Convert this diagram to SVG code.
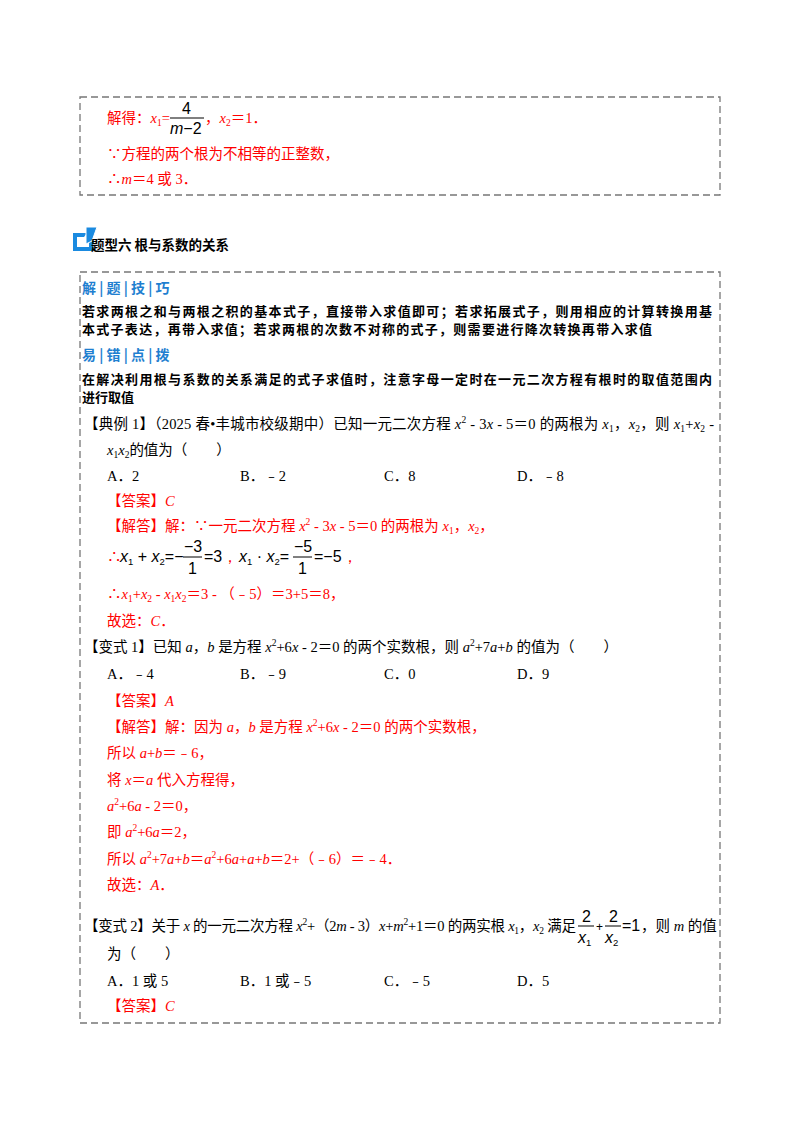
<svg xmlns="http://www.w3.org/2000/svg" width="800" height="1132" viewBox="0 0 800 1132">
<style>
text{font-family:"Liberation Serif","Noto Sans CJK SC",serif;font-size:14.5px;fill:#000}
.r{fill:#ff0000}
.b{font-family:"Noto Sans CJK SC",sans-serif;font-weight:bold;font-size:13px}
.t{font-family:"Noto Sans CJK SC",sans-serif;font-weight:bold;font-size:13.5px}
.h{font-family:"Noto Sans CJK SC",sans-serif;font-weight:bold;font-size:14px;fill:#1f7fd0}
.box{fill:none;stroke:#777;stroke-width:1.3;stroke-dasharray:7,4}
.i{font-style:italic}
.s{font-size:9.5px}
.m{font-family:"Liberation Sans",sans-serif;font-size:16px}
</style>
<rect width="800" height="1132" fill="#fff"/>
<g id="box1">
<rect class="box" x="80" y="97" width="640" height="98"/>
<text x="107" y="123" class="r">解得：<tspan class="i">x</tspan><tspan class="s" dy="3">1</tspan><tspan dy="-3">=</tspan></text>
<text x="182" y="114" class="m">4</text>
<line x1="170" y1="118" x2="204" y2="118" stroke="#000"/>
<text x="170" y="134" class="m"><tspan class="i">m</tspan>−2</text>
<text x="205" y="123" class="r">，<tspan class="i">x</tspan><tspan class="s" dy="3">2</tspan><tspan dy="-3">＝1．</tspan></text>
<text x="107" y="159" class="r">∵方程的两个根为不相等的正整数，</text>
<text x="107" y="184" class="r">∴<tspan class="i">m</tspan>＝4 或 3．</text>
</g>
<g id="title">
<path d="M73 233 h14 l-3 4 h-7 v10 h12 v-5 l4-3 v12 h-20z" fill="#1a8ae0"/>
<path d="M86 227 h11 l-5 14 l-6 3 l0-6z" fill="#1a8ae0" stroke="#fff" stroke-width="1"/>
<text x="91" y="250" class="t">题型六  根与系数的关系</text>
</g>
<g id="box2">
<rect class="box" x="80" y="272" width="640" height="751"/>
<text x="82" y="293" class="h">解 | 题 | 技 | 巧</text>
<text x="82" y="316" class="b" textLength="630">若求两根之和与两根之积的基本式子，直接带入求值即可；若求拓展式子，则用相应的计算转换用基</text>
<text x="82" y="334" class="b" textLength="570">本式子表达，再带入求值；若求两根的次数不对称的式子，则需要进行降次转换再带入求值</text>
<text x="82" y="360" class="h">易 | 错 | 点 | 拨</text>
<text x="82" y="384" class="b" textLength="630">在解决利用根与系数的关系满足的式子求值时，注意字母一定时在一元二次方程有根时的取值范围内</text>
<text x="82" y="402" class="b">进行取值</text>
<text x="84" y="429" textLength="630">【典例 1】（2025 春•丰城市校级期中）已知一元二次方程 <tspan class="i">x</tspan><tspan class="s" dy="-6">2</tspan><tspan dy="6"> ‐ 3</tspan><tspan class="i">x</tspan> ‐ 5＝0 的两根为 <tspan class="i">x</tspan><tspan class="s" dy="3">1</tspan><tspan dy="-3">，</tspan><tspan class="i">x</tspan><tspan class="s" dy="3">2</tspan><tspan dy="-3">，则 </tspan><tspan class="i">x</tspan><tspan class="s" dy="3">1</tspan><tspan dy="-3">+</tspan><tspan class="i">x</tspan><tspan class="s" dy="3">2</tspan><tspan dy="-3"> ‐</tspan></text>
<text x="107" y="455"><tspan class="i">x</tspan><tspan class="s" dy="3">1</tspan><tspan class="i" dy="-3">x</tspan><tspan class="s" dy="3">2</tspan><tspan dy="-3">的值为（　　）</tspan></text>
<text x="107" y="481">A．2</text><text x="240" y="481">B．﹣2</text><text x="384" y="481">C．8</text><text x="517" y="481">D．﹣8</text>
<text x="107" y="506" class="r">【答案】<tspan class="i">C</tspan></text>
<text x="107" y="531" class="r">【解答】解：∵一元二次方程 <tspan class="i">x</tspan><tspan class="s" dy="-6">2</tspan><tspan dy="6"> ‐ 3</tspan><tspan class="i">x</tspan> ‐ 5＝0 的两根为 <tspan class="i">x</tspan><tspan class="s" dy="3">1</tspan><tspan dy="-3">，</tspan><tspan class="i">x</tspan><tspan class="s" dy="3">2</tspan><tspan dy="-3">，</tspan></text>
<text x="107" y="562" class="r">∴</text>
<text x="120" y="562" class="m"><tspan class="i">x</tspan><tspan class="s" dy="3">1</tspan><tspan dy="-3"> + </tspan><tspan class="i">x</tspan><tspan class="s" dy="3">2</tspan><tspan dy="-3">=−</tspan></text>
<text x="184" y="552" class="m">−3</text>
<line x1="183" y1="557" x2="202" y2="557" stroke="#000"/>
<text x="188" y="574" class="m">1</text>
<text x="204" y="562" class="m">=3<tspan class="r">，</tspan></text>
<text x="239" y="562" class="m"><tspan class="i">x</tspan><tspan class="s" dy="3">1</tspan><tspan dy="-3"> · </tspan><tspan class="i">x</tspan><tspan class="s" dy="3">2</tspan><tspan dy="-3">=</tspan></text>
<text x="294" y="552" class="m">−5</text>
<line x1="293" y1="557" x2="312" y2="557" stroke="#000"/>
<text x="298" y="574" class="m">1</text>
<text x="314" y="562" class="m">=−5<tspan class="r">，</tspan></text>
<text x="107" y="599" class="r">∴<tspan class="i">x</tspan><tspan class="s" dy="3">1</tspan><tspan dy="-3">+</tspan><tspan class="i">x</tspan><tspan class="s" dy="3">2</tspan><tspan dy="-3"> ‐ </tspan><tspan class="i">x</tspan><tspan class="s" dy="3">1</tspan><tspan class="i" dy="-3">x</tspan><tspan class="s" dy="3">2</tspan><tspan dy="-3">＝3 ‐ （﹣5）＝3+5＝8，</tspan></text>
<text x="107" y="626" class="r">故选：<tspan class="i">C</tspan>．</text>
<text x="84" y="652">【变式 1】已知 <tspan class="i">a</tspan>，<tspan class="i">b</tspan> 是方程 <tspan class="i">x</tspan><tspan class="s" dy="-6">2</tspan><tspan dy="6">+6</tspan><tspan class="i">x</tspan> ‐ 2＝0 的两个实数根，则 <tspan class="i">a</tspan><tspan class="s" dy="-6">2</tspan><tspan dy="6">+7</tspan><tspan class="i">a</tspan>+<tspan class="i">b</tspan> 的值为（　　）</text>
<text x="107" y="679">A．﹣4</text><text x="240" y="679">B．﹣9</text><text x="384" y="679">C．0</text><text x="517" y="679">D．9</text>
<text x="107" y="706" class="r">【答案】<tspan class="i">A</tspan></text>
<text x="107" y="732" class="r">【解答】解：因为 <tspan class="i">a</tspan>，<tspan class="i">b</tspan> 是方程 <tspan class="i">x</tspan><tspan class="s" dy="-6">2</tspan><tspan dy="6">+6</tspan><tspan class="i">x</tspan> ‐ 2＝0 的两个实数根，</text>
<text x="107" y="758" class="r">所以 <tspan class="i">a</tspan>+<tspan class="i">b</tspan>＝﹣6，</text>
<text x="107" y="785" class="r">将 <tspan class="i">x</tspan>＝<tspan class="i">a</tspan> 代入方程得，</text>
<text x="107" y="811" class="r"><tspan class="i">a</tspan><tspan class="s" dy="-6">2</tspan><tspan dy="6">+6</tspan><tspan class="i">a</tspan> ‐ 2＝0，</text>
<text x="107" y="837" class="r">即 <tspan class="i">a</tspan><tspan class="s" dy="-6">2</tspan><tspan dy="6">+6</tspan><tspan class="i">a</tspan>＝2，</text>
<text x="107" y="864" class="r">所以 <tspan class="i">a</tspan><tspan class="s" dy="-6">2</tspan><tspan dy="6">+7</tspan><tspan class="i">a</tspan>+<tspan class="i">b</tspan>＝<tspan class="i">a</tspan><tspan class="s" dy="-6">2</tspan><tspan dy="6">+6</tspan><tspan class="i">a</tspan>+<tspan class="i">a</tspan>+<tspan class="i">b</tspan>＝2+（﹣6）＝﹣4．</text>
<text x="107" y="890" class="r">故选：<tspan class="i">A</tspan>．</text>
<text x="84" y="931" textLength="492">【变式 2】关于 <tspan class="i">x</tspan> 的一元二次方程 <tspan class="i">x</tspan><tspan class="s" dy="-6">2</tspan><tspan dy="6">+（2</tspan><tspan class="i">m</tspan> ‐ 3）<tspan class="i">x</tspan>+<tspan class="i">m</tspan><tspan class="s" dy="-6">2</tspan><tspan dy="6">+1＝0 的两实根 </tspan><tspan class="i">x</tspan><tspan class="s" dy="3">1</tspan><tspan dy="-3">，</tspan><tspan class="i">x</tspan><tspan class="s" dy="3">2</tspan><tspan dy="-3"> 满足</tspan></text>
<text x="582" y="922" class="m">2</text>
<line x1="578" y1="926" x2="594" y2="926" stroke="#000"/>
<text x="578" y="943" class="m"><tspan class="i">x</tspan><tspan class="s" dy="3">1</tspan></text>
<text x="596" y="931" style="font-family:'Liberation Sans';font-size:12px">+</text>
<text x="609" y="922" class="m">2</text>
<line x1="605" y1="926" x2="621" y2="926" stroke="#000"/>
<text x="605" y="943" class="m"><tspan class="i">x</tspan><tspan class="s" dy="3">2</tspan></text>
<text x="622" y="931" class="m">=1</text>
<text x="641" y="931">，则 <tspan class="i">m</tspan> 的值</text>
<text x="107" y="959">为（　　）</text>
<text x="107" y="986">A．1 或 5</text><text x="240" y="986">B．1 或﹣5</text><text x="384" y="986">C．﹣5</text><text x="517" y="986">D．5</text>
<text x="107" y="1011" class="r">【答案】<tspan class="i">C</tspan></text>
</g>
</svg>
